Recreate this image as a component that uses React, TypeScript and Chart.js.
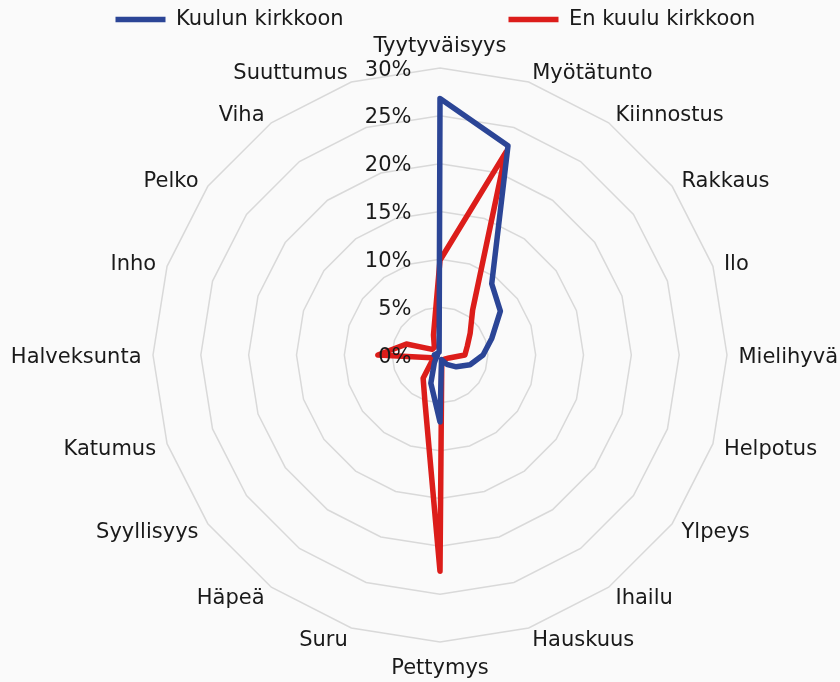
import React, { useEffect, useRef } from 'react';
import { Chart, registerables } from 'chart.js';

Chart.register(...registerables);

// ---- data ----
const categories = [
  'Tyytyväisyys', 'Myötätunto', 'Kiinnostus', 'Rakkaus', 'Ilo', 'Mielihyvä',
  'Helpotus', 'Ylpeys', 'Ihailu', 'Hauskuus', 'Pettymys', 'Suru', 'Häpeä',
  'Syyllisyys', 'Katumus', 'Halveksunta', 'Inho', 'Pelko', 'Viha', 'Suuttumus',
];
const seriesNames = ['Kuulun kirkkoon', 'En kuulu kirkkoon'];
const kuulunKirkkoon = [
  26.8, 23.0, 9.2, 7.8, 5.7, 4.5, 3.3, 2.1, 1.2, 0.5,
  7.0, 3.1, 1.0, 0.5, 0.3, 0.6, 0.4, 0.3, 0.3, 0.3,
];
const enKuuluKirkkoon = [
  9.9, 22.3, 5.8, 3.9, 3.0, 2.6, 1.0, 0.7, 0.6, 0.6,
  22.6, 5.1, 3.0, 1.0, 0.9, 6.5, 3.7, 1.0, 1.0, 2.2,
];
const tickValues = [0, 5, 10, 15, 20, 25, 30];
const tickLabels = ['0%', '5%', '10%', '15%', '20%', '25%', '30%'];

// ---- styling / layout ----
const W = 840;
const H = 682;
const FONT_FAMILY = '"DejaVu Sans"';
const FONT_SIZE = 21;
const TEXT_COLOR = '#1a1a1a';
const BLUE = '#2b4596';
const RED = '#dc1d1a';
const GRID = '#d9d9d9';
const BG = '#fafafa';
const CX = 440;
const CY = 355;
const RADIUS = 287;
const LABEL_GAP = 11.5;
const CAP_HALF = 7.6;
const TICK_X_OFFSET = 28.5;
const LEGEND_X1 = 115.5;
const LEGEND_X2 = 508.5;
const LEGEND_Y = 9;
const BOX_W = 50;

export default function App() {
  const ref = useRef<HTMLCanvasElement | null>(null);

  useEffect(() => {
    const canvas = ref.current;
    if (!canvas) return;

    const m = document.createElement('canvas').getContext('2d')!;
    m.font = `${FONT_SIZE}px ${FONT_FAMILY}`;
    const w1 = m.measureText(seriesNames[0]).width;
    const pad = LEGEND_X2 - LEGEND_X1 - (BOX_W + FONT_SIZE / 2 + w1);

    Chart.defaults.font.family = FONT_FAMILY;
    Chart.defaults.font.size = FONT_SIZE;
    Chart.defaults.color = TEXT_COLOR;

    const labelPlugin = {
      id: 'customLabels',
      afterLayout(chart: any) {
        const lg = chart.legend;
        if (lg) {
          lg.left = LEGEND_X1 - pad;
          lg.right = 3000;
          lg.top = LEGEND_Y - pad;
          lg.bottom = 45;
        }
      },
      afterDraw(chart: any) {
        const s = chart.scales.r;
        const ctx = chart.ctx as CanvasRenderingContext2D;
        ctx.save();
        ctx.font = `${FONT_SIZE}px ${FONT_FAMILY}`;
        ctx.fillStyle = TEXT_COLOR;
        ctx.textBaseline = 'alphabetic';
        const n = categories.length;
        categories.forEach((c, i) => {
          const p = s.getPointPosition(i, s.drawingArea + LABEL_GAP);
          const deg = (i * 360) / n;
          let y = p.y + CAP_HALF;
          let align: CanvasTextAlign = 'left';
          if (deg === 0) {
            align = 'center';
            y = p.y - 4.5;
          } else if (deg === 180) {
            align = 'center';
            y = p.y + 20;
          } else if (deg > 180) {
            align = 'right';
          }
          ctx.textAlign = align;
          ctx.fillText(c, p.x, y);
        });
        ctx.textAlign = 'right';
        tickValues.forEach((v, i) => {
          const d = s.getDistanceFromCenterForValue(v);
          ctx.fillText(tickLabels[i], s.xCenter - TICK_X_OFFSET, s.yCenter - d + CAP_HALF);
        });
        ctx.restore();
      },
    };

    const ds = (label: string, data: number[], color: string) => ({
      label,
      data,
      borderColor: color,
      backgroundColor: color,
      borderWidth: 5.5,
      borderJoinStyle: 'round' as const,
      borderCapStyle: 'round' as const,
      pointRadius: 0,
      pointHoverRadius: 0,
      fill: false,
      tension: 0,
      clip: false as const,
    });

    const chart = new Chart(canvas, {
      type: 'radar',
      data: {
        labels: categories,
        datasets: [
          ds(seriesNames[0], kuulunKirkkoon, BLUE),
          ds(seriesNames[1], enKuuluKirkkoon, RED),
        ],
      },
      options: {
        responsive: false,
        animation: false,
        events: [],
        plugins: {
          tooltip: { enabled: false },
          legend: {
            display: true,
            position: 'top',
            align: 'start',
            labels: {
              usePointStyle: true,
              pointStyle: 'line',
              pointStyleWidth: BOX_W,
              boxHeight: FONT_SIZE,
              padding: pad,
              color: TEXT_COLOR,
              font: { family: FONT_FAMILY, size: FONT_SIZE },
            },
          },
        },
        scales: {
          r: {
            min: 0,
            max: 30,
            startAngle: 0,
            ticks: { stepSize: 5, display: false },
            grid: { color: GRID, lineWidth: 1.5, circular: false },
            angleLines: { display: false },
            pointLabels: { display: false },
            afterFit: (s: any) => {
              s.xCenter = CX;
              s.yCenter = CY;
              s.drawingArea = RADIUS;
            },
          },
        },
      },
      plugins: [labelPlugin],
    } as any);

    return () => chart.destroy();
  }, []);

  return (
    <div style={{ position: 'fixed', left: 0, top: 0, width: W, height: H, background: BG }}>
      <canvas ref={ref} width={W} height={H} style={{ display: 'block', width: W, height: H }} />
    </div>
  );
}
